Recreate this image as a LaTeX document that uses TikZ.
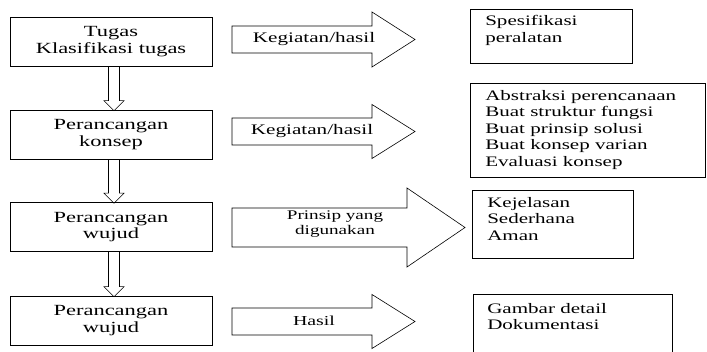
\documentclass[tikz,border=0pt]{standalone}
\usepackage{fontspec}
\setmainfont{Liberation Serif}[FakeStretch=1.45]
\usetikzlibrary{calc, positioning}

\tikzset{
  tahap/.style={draw, minimum width=202pt, minimum height=49pt, inner sep=0pt,
    align=center, font=\fontsize{15.5}{16.5}\selectfont},
  keluaran/.style={draw, anchor=north west, inner sep=0pt},
  isi/.style={anchor=north west, inner sep=0pt, align=left,
    font=\fontsize{14.5}{16.5}\selectfont},
  panahteks/.style={inner sep=0pt, align=center, font=\fontsize{14.6}{15}\selectfont}
}

\begin{document}
\begin{tikzpicture}[x=1pt, y=-1pt, line width=0.6pt]
  \clip (0,0) rectangle (707,352);

  % Tahapan
  \node[tahap] (tugas)  at (111,41.5)  {Tugas\\Klasifikasi tugas};
  \node[tahap] (konsep) at (111,134.5) {Perancangan\\konsep};
  \node[tahap] (wujud)  at (111,227)   {Perancangan\\wujud};
  \node[tahap] (detail) at (111,320.5) {Perancangan\\wujud};

  % Panah ke bawah
  \foreach \a/\b in {tugas/konsep, konsep/wujud, wujud/detail} {
    \draw ($(\a.south)+(-2.5,0)$) -- ($(\b.north)+(-2.5,-9)$) -- ++(-4.5,0)
      -- ($(\b.north)+(3,1)$) -- ($(\b.north)+(13,-9)$) -- ++(-4.5,0)
      -- ($(\a.south)+(8.5,0)$);
  }

  % Panah besar
  \foreach \y/\s/\h/\b/\t in {39.5/13.5/27.5/372/415, 131.5/13.5/27/372/415,
      227.5/19.5/39.5/407/465, 321.5/13.5/27/372/415} {
    \draw (232,\y-\s) -- (\b,\y-\s) -- (\b,\y-\h) -- (\t,\y)
      -- (\b,\y+\h) -- (\b,\y+\s) -- (232,\y+\s) -- cycle;
  }
  \node[panahteks] (keg1) at (314,39.5) {Kegiatan/hasil};
  \node[panahteks] (keg2) at (312,131.5) {Kegiatan/hasil};
  \node[panahteks, font=\fontsize{13.2}{15}\selectfont] (prinsip) at (335,224) {Prinsip yang\\digunakan};
  \node[panahteks, font=\fontsize{13.7}{15}\selectfont] (hasil) at (314,320.5) {Hasil};

  % Keluaran
  \node[keluaran, minimum width=162pt, minimum height=54pt] (spek) at (470,9) {};
  \node[keluaran, minimum width=235pt, minimum height=94pt] (abstrak) at (470,83) {};
  \node[keluaran, minimum width=161pt, minimum height=68pt] (kriteria) at (472,190) {};
  \node[keluaran, minimum width=199pt, minimum height=80pt] (dokumen) at (473,294) {};

  \node[isi] at ($(spek.north west)+(15,6)$) {Spesifikasi\\peralatan};
  \node[isi] at ($(abstrak.north west)+(15,7)$) {Abstraksi perencanaan\\Buat struktur fungsi\\Buat prinsip solusi\\Buat konsep varian\\Evaluasi konsep};
  \node[isi] at ($(kriteria.north west)+(15,7)$) {Kejelasan\\Sederhana\\Aman};
  \node[isi] at ($(dokumen.north west)+(14,9)$) {Gambar detail\\Dokumentasi};
\end{tikzpicture}
\end{document}
